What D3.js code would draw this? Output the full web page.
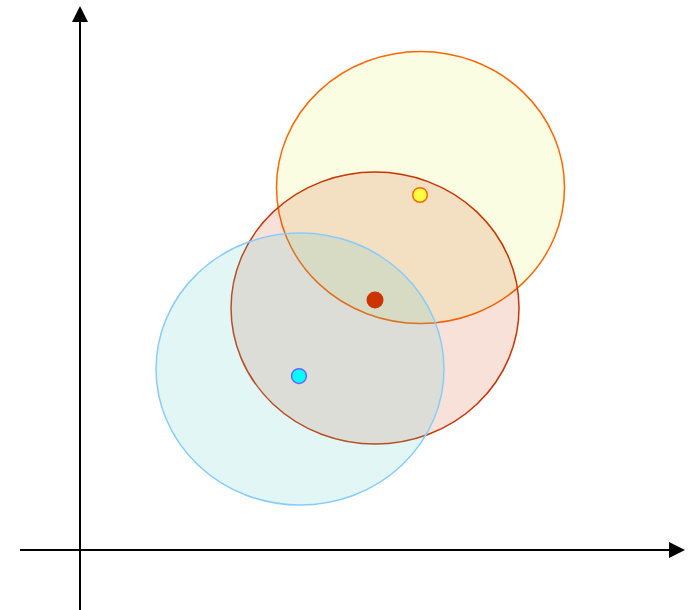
<!DOCTYPE html>
<html><head><meta charset="utf-8">
<script src="https://cdn.jsdelivr.net/npm/d3@7"></script>
<style>html,body{margin:0;padding:0;background:#fff;}svg{display:block;}</style>
</head><body>
<script>
// Data (in data units)
const names = ["yellow", "red", "blue"];
const centerX = [5.675, 4.917, 3.667];
const centerY = [6.397, 4.27, 3.194];
const radius = [2.4, 2.4, 2.4];
const pointX = [5.667, 4.917, 3.65];
const pointY = [6.265, 4.41, 3.07];

const styles = {
  yellow: {fill: "#eef98e", op: 0.25, stroke: "#ff6600", dotFill: "#ffff44", dotStroke: "#ff6600", r: 7.3},
  red:    {fill: "#cc3300", op: 0.15, stroke: "#cc3300", dotFill: "#cc3300", dotStroke: "none", r: 8.5},
  blue:   {fill: "#5ccccc", op: 0.175, stroke: "#88ccff", dotFill: "#00ffff", dotStroke: "#6666ff", r: 7.4}
};

const W = 693, H = 610;
const x = d3.scaleLinear().domain([0, 10]).range([80, 680]);
const y = d3.scaleLinear().domain([0, 9.6]).range([550, 6]);

const svg = d3.select("body").append("svg").attr("width", W).attr("height", H);

const data = names.map((n, i) => ({name: n, cx: centerX[i], cy: centerY[i], r: radius[i], px: pointX[i], py: pointY[i]}));

// Axes
const ax = svg.append("g");
ax.append("line").attr("x1", 20).attr("x2", 672).attr("y1", y(0)).attr("y2", y(0))
  .attr("stroke", "#000").attr("stroke-width", 2);
ax.append("line").attr("x1", x(0)).attr("x2", x(0)).attr("y1", 610).attr("y2", 20)
  .attr("stroke", "#000").attr("stroke-width", 2);
ax.append("path").attr("d", `M685,${y(0)} L669,${y(0)-8} L669,${y(0)+8} Z`).attr("fill", "#000");
ax.append("path").attr("d", `M${x(0)},6 L${x(0)-8},22 L${x(0)+8},22 Z`).attr("fill", "#000");

// Ellipses
svg.append("g").selectAll("ellipse").data(data).join("ellipse")
  .attr("cx", d => x(d.cx)).attr("cy", d => y(d.cy))
  .attr("rx", d => x(d.r) - x(0)).attr("ry", d => y(0) - y(d.r))
  .attr("fill", d => styles[d.name].fill)
  .attr("fill-opacity", d => styles[d.name].op)
  .attr("stroke", d => styles[d.name].stroke)
  .attr("stroke-width", 1.5);

// Points
svg.append("g").selectAll("circle").data(data).join("circle")
  .attr("cx", d => x(d.px)).attr("cy", d => y(d.py))
  .attr("r", d => styles[d.name].r)
  .attr("fill", d => styles[d.name].dotFill)
  .attr("stroke", d => styles[d.name].dotStroke)
  .attr("stroke-width", 1.5);
</script>
</body></html>
